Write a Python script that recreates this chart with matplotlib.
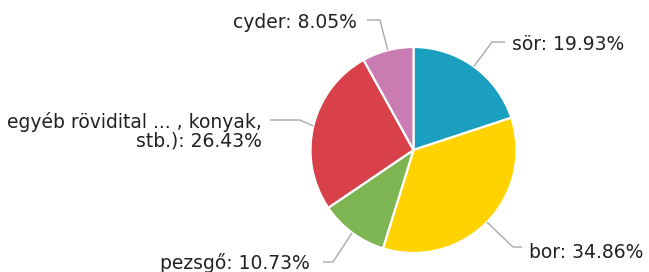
import numpy as np
import matplotlib
matplotlib.use("Agg")
import matplotlib.pyplot as plt

W, H = 649, 272

categories = ["sör", "bor", "pezsgő", "egyéb rövidital ... , konyak,\nstb.)", "cyder"]
values = [19.93, 34.86, 10.73, 26.43, 8.05]
colors = ["#1a9fc0", "#ffd300", "#7db552", "#d8414a", "#c97bb2"]

# label layout (pixel coords from top-left): text anchor x, y, ha, connector end x, bend x
label_layout = [
    (512, 45, "left", 505, 492),
    (529, 252, "left", 522, 513),
    (310, 263, "right", 323, 333),
    (262, 131, "right", 270, 300),
    (357, 22, "right", 367, 380),
]

fig = plt.figure(figsize=(W / 100, H / 100), dpi=100)
ax = fig.add_axes([0, 0, 1, 1])

cx, cy, r = 413.5, H - 150, 103
wedges, _ = ax.pie(values, colors=colors, startangle=90, counterclock=False,
                   center=(cx, cy), radius=r, frame=True,
                   wedgeprops=dict(edgecolor="white", linewidth=1.6))
ax.set_xlim(0, W)
ax.set_ylim(0, H)
ax.set_aspect("equal")
ax.axis("off")

line_y_offsets = [-3, -5, -1, -11, -2]
for w, cat, val, lay, dy in zip(wedges, categories, values, label_layout, line_y_offsets):
    tx, ty, ha, endx, bendx = lay
    ang = np.deg2rad((w.theta1 + w.theta2) / 2)
    ex, ey = cx + r * np.cos(ang), cy + r * np.sin(ang)
    ly = H - (ty + dy)
    ax.plot([ex, bendx, endx], [ey, ly, ly], color="#aaaaaa", lw=1, solid_capstyle="butt")
    ax.text(tx, H - ty, f"{cat}: {val:.2f}%", ha=ha, va="center", fontsize=13.5,
            color="#222222", family="DejaVu Sans", linespacing=1.0,
            multialignment="right")

fig.savefig("out.png", dpi=100, facecolor="white")
